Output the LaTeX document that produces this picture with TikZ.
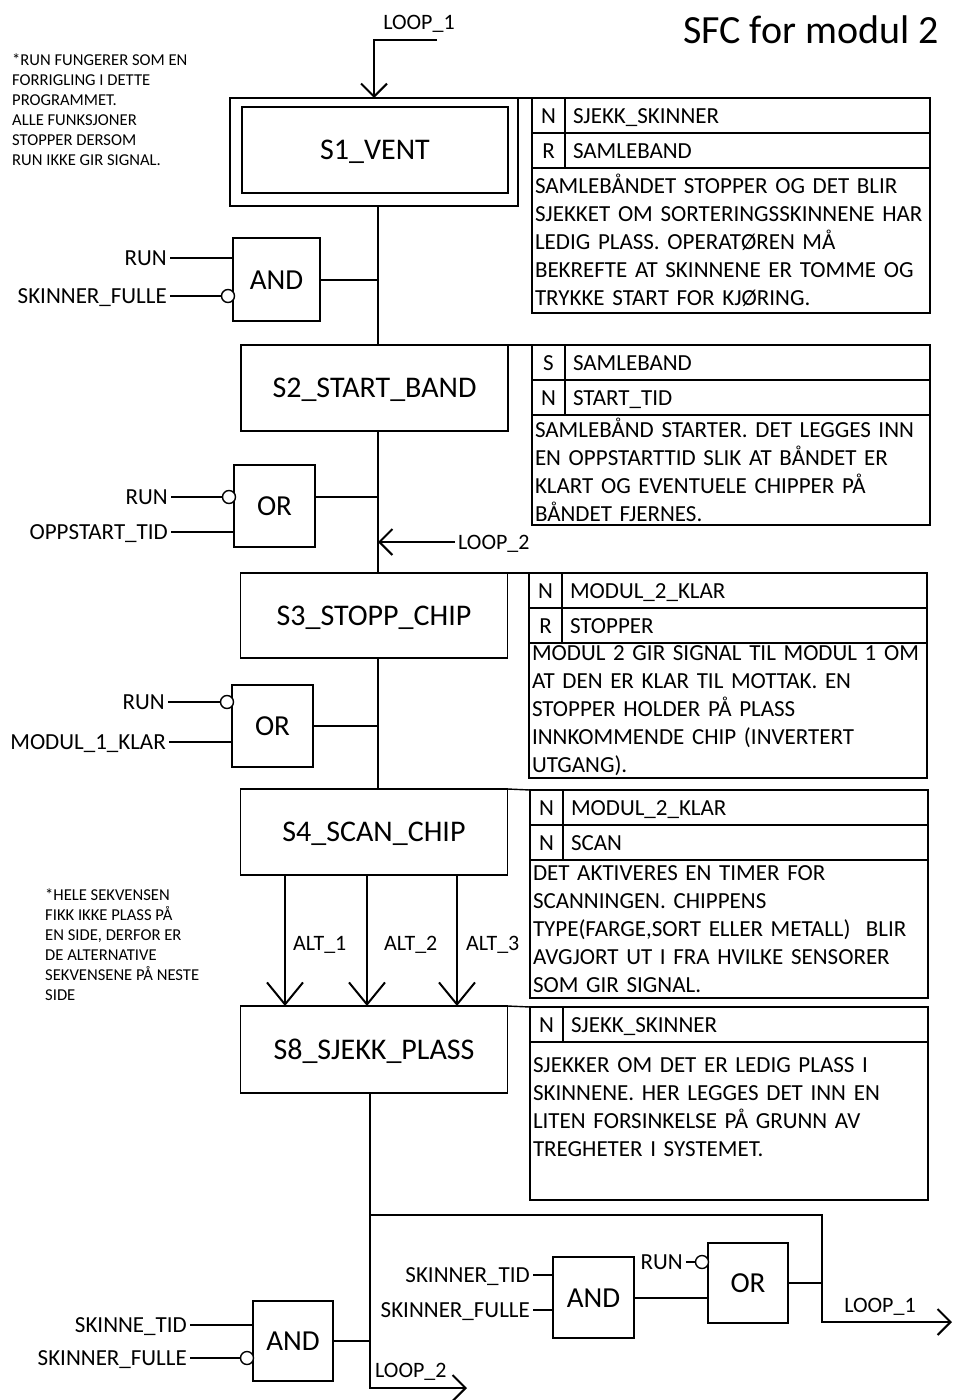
\documentclass[tikz,border=0pt]{standalone}
\usepackage{fontspec}
\setmainfont{Carlito}
\usetikzlibrary{positioning,arrows.meta}
\tikzset{
  stepBox/.style={draw, line width=1.4pt, outer sep=0pt, inner sep=0pt,
                  minimum width=267pt, minimum height=86pt,
                  font=\fontsize{30}{35}\selectfont, text height=19pt, text depth=0pt},
  gateBox/.style={draw, line width=1.4pt, outer sep=0pt, inner sep=0pt,
                  minimum width=81pt, minimum height=82pt,
                  font=\fontsize{29}{34}\selectfont, text height=19pt, text depth=0pt},
  qualCell/.style={draw, line width=1.4pt, outer sep=0pt, inner sep=0pt, anchor=north west,
                   minimum width=33pt, minimum height=35pt,
                   font=\fontsize{23}{28}\selectfont, text height=15pt, text depth=0pt},
  actCell/.style={draw, line width=1.4pt, outer sep=0pt, inner xsep=8pt, inner ysep=0pt,
                  anchor=north west, text width=349pt, align=left, minimum height=35pt,
                  font=\fontsize{23}{28}\selectfont, text height=15pt, text depth=0pt},
  descBox/.style={draw, line width=1.4pt, outer sep=0pt, inner xsep=3pt, inner ysep=2pt,
                  anchor=north west, text width=392pt, align=left,
                  font=\fontsize{23}{28}\selectfont},
  sigTxt/.style={inner sep=3pt, font=\fontsize{22}{26}\selectfont,
                 text height=14pt, text depth=0pt},
  sigLbl/.style={sigTxt, anchor=east, font=\fontsize{23}{27}\selectfont},
  negIn/.style={circle, draw, line width=1.4pt, fill=white, inner sep=0pt, minimum size=13pt},
  noteTxt/.style={anchor=north west, inner sep=0pt, align=left,
                  font=\fontsize{16.6}{20}\selectfont},
  wire/.style={line width=2pt},
  boxLine/.style={line width=1.4pt},
  sfcArrow/.style={wire, -{Straight Barb[length=13pt, width=26pt]}},
  altArrow/.style={wire, -{Straight Barb[length=22pt, width=36pt]}},
}

\begin{document}
\begin{tikzpicture}[x=1pt, y=-1pt]
\useasboundingbox (0,0) rectangle (954,1400);

% ========== TITLE AND NOTES ==========
\node[font=\fontsize{40}{48}\selectfont, anchor=base] (title) at (811,43) {SFC for modul 2};

\node[noteTxt] (note1) at (12,54)
  {*RUN FUNGERER SOM EN\\
   FORRIGLING I DETTE\\
   PROGRAMMET.\\
   ALLE FUNKSJONER\\
   STOPPER DERSOM\\
   RUN IKKE GIR SIGNAL.};

\node[noteTxt] (note2) at (45,889)
  {*HELE SEKVENSEN\\
   FIKK IKKE PLASS PÅ\\
   EN SIDE, DERFOR ER\\
   DE ALTERNATIVE\\
   SEKVENSENE PÅ NESTE\\
   SIDE};

% ========== STEPS ==========
\coordinate (spx) at (378,0);
\node[stepBox, minimum width=288pt, minimum height=108pt] (s1) at (374,152) {};
\node[stepBox, minimum width=266pt] (s1in) at (375,150) {S1\_VENT};
\node[stepBox] (s2) at (374.5,388) {S2\_START\_BAND};
\node[stepBox, minimum height=85pt] (s3) at (374,615.5) {S3\_STOPP\_CHIP};
\node[stepBox] (s4) at (374,832) {S4\_SCAN\_CHIP};
\node[stepBox, minimum height=87pt] (s8) at (374,1049.5) {S8\_SJEKK\_PLASS};

% entry from LOOP_1
\node[sigTxt, anchor=base] (l1in) at (419,29) {LOOP\_1};
\coordinate (l1top) at (437,40);
\draw[sfcArrow] (l1top) -| (s1.north);

% main line
\draw[wire] (s1.south -| spx) -- (s2.north -| spx);
\draw[wire] (s2.south -| spx) -- (s3.north -| spx);
\draw[wire] (s3.south -| spx) -- (s4.north -| spx);

% entry from LOOP_2
\node[sigTxt, anchor=west] (l2in) at (455,542) {LOOP\_2};
\draw[sfcArrow] (l2in.west) -- (l2in.west -| spx);

% ========== TRANSITIONS ==========
% S1 -> S2
\node[gateBox, minimum width=87pt, minimum height=83pt] (g1) at (276.5,279.5) {AND};
\node[sigLbl] (g1a) at (170,258) {RUN};
\node[sigLbl] (g1b) at (170,296) {SKINNER\_FULLE};
\node[negIn] (g1n) at (228,296) {};
\draw[wire] (g1a.east) -- (g1a.east -| g1.west);
\draw[wire] (g1b.east) -- (g1n.west);
\draw[wire] (g1.east) -- (g1.east -| spx);

% S2 -> S3
\node[gateBox] (g2) at (274.5,506) {OR};
\node[sigLbl] (g2a) at (171,497) {RUN};
\node[sigLbl] (g2b) at (171,532) {OPPSTART\_TID};
\node[negIn] (g2n) at (229,497) {};
\draw[wire] (g2a.east) -- (g2n.west);
\draw[wire] (g2b.east) -- (g2b.east -| g2.west);
\draw[wire] (g2.east |- g2a) -- (spx |- g2a);

% S3 -> S4
\node[gateBox] (g3) at (272.5,726) {OR};
\node[sigLbl] (g3a) at (168,702) {RUN};
\node[sigLbl] (g3b) at (169,742) {MODUL\_1\_KLAR};
\node[negIn] (g3n) at (227,702) {};
\draw[wire] (g3a.east) -- (g3n.west);
\draw[wire] (g3b.east) -- (g3b.east -| g3.west);
\draw[wire] (g3.east) -- (g3.east -| spx);

% S4 -> S8, three alternatives
\foreach \x/\n/\dx in {285/1/5, 367/2/14, 457/3/6} {
  \coordinate (alt\n) at (\x,0);
  \draw[altArrow] (s4.south -| alt\n) -- (s8.north -| alt\n);
  \node[sigTxt, anchor=west] (altlbl\n) at (\x+\dx,943) {ALT\_\n};
}

% S8 -> LOOP_1 / LOOP_2
\coordinate (spx2) at (370,0);
\coordinate (j1) at (370,1215);
\coordinate (k2) at (822,1322);
\coordinate (loop1out) at (952,1322);
\coordinate (loop2out) at (467,1388);
\draw[sfcArrow] (s8.south -| spx2) |- (loop2out);
\draw[sfcArrow] (j1) -| (k2) -- (loop1out);
\node[sigTxt, anchor=west] (l2out) at (372,1370) {LOOP\_2};
\node[sigTxt] (l1out) at (880,1305) {LOOP\_1};

\node[gateBox, minimum width=80pt, minimum height=80pt] (g4) at (293,1341) {AND};
\node[sigLbl] (g4a) at (190,1325) {SKINNE\_TID};
\node[sigLbl] (g4b) at (190,1358) {SKINNER\_FULLE};
\node[negIn] (g4n) at (247,1358) {};
\draw[wire] (g4a.east) -- (g4a.east -| g4.west);
\draw[wire] (g4b.east) -- (g4n.west);
\draw[wire] (g4.east) -- (g4.east -| spx2);

\node[gateBox, minimum width=81pt, minimum height=81pt] (g5) at (593.5,1297.5) {AND};
\node[sigLbl] (g5a) at (533,1275) {SKINNER\_TID};
\node[sigLbl] (g5b) at (533,1310) {SKINNER\_FULLE};
\draw[wire] (g5a.east) -- (g5a.east -| g5.west);
\draw[wire] (g5b.east) -- (g5b.east -| g5.west);

\node[gateBox, minimum width=80pt, minimum height=80pt] (g6) at (748,1283) {OR};
\node[sigLbl] (g6a) at (686,1262) {RUN};
\node[negIn] (g6n) at (702,1262) {};
\draw[wire] (g6a.east) -- (g6n.west);
\draw[wire] (g5.east) -- (g5.east -| g6.west);
\draw[wire] (g6.east) -- (g6.east -| k2);

% ========== ACTIONS ==========
% S1
\node[qualCell] (q1a) at (532,98) {N};
\node[actCell] (a1a) at (q1a.north east) {SJEKK\_SKINNER};
\node[qualCell] (q1b) at (q1a.south west) {R};
\node[actCell] (a1b) at (q1b.north east) {SAMLEBAND};
\node[descBox, minimum height=145pt] (d1) at (q1b.south west)
  {SAMLEBÅNDET STOPPER OG DET BLIR\\
   SJEKKET OM SORTERINGSSKINNENE HAR\\
   LEDIG PLASS. OPERATØREN MÅ\\
   BEKREFTE AT SKINNENE ER TOMME OG\\
   TRYKKE START FOR KJØRING.};
\draw[boxLine] (s1.north east) -- (q1a.north west);

% S2
\node[qualCell] (q2a) at (532,345) {S};
\node[actCell] (a2a) at (q2a.north east) {SAMLEBAND};
\node[qualCell] (q2b) at (q2a.south west) {N};
\node[actCell] (a2b) at (q2b.north east) {START\_TID};
\node[descBox, minimum height=110pt] (d2) at (q2b.south west)
  {SAMLEBÅND STARTER. DET LEGGES INN\\
   EN OPPSTARTTID SLIK AT BÅNDET ER\\
   KLART OG EVENTUELE CHIPPER PÅ\\
   BÅNDET FJERNES.};
\draw[boxLine] (s2.north east) -- (q2a.north west);

% S3
\node[qualCell] (q3a) at (529,573) {N};
\node[actCell] (a3a) at (q3a.north east) {MODUL\_2\_KLAR};
\node[qualCell] (q3b) at (q3a.south west) {R};
\node[actCell] (a3b) at (q3b.north east) {STOPPER};
\node[descBox, minimum height=135pt] (d3) at (q3b.south west)
  {MODUL 2 GIR SIGNAL TIL MODUL 1 OM\\
   AT DEN ER KLAR TIL MOTTAK. EN\\
   STOPPER HOLDER PÅ PLASS\\
   INNKOMMENDE CHIP (INVERTERT\\
   UTGANG).};
\draw[boxLine] (s3.north east) -- (q3a.north west);

% S4
\node[qualCell] (q4a) at (530,790) {N};
\node[actCell] (a4a) at (q4a.north east) {MODUL\_2\_KLAR};
\node[qualCell] (q4b) at (q4a.south west) {N};
\node[actCell] (a4b) at (q4b.north east) {SCAN};
\node[descBox, minimum height=138pt] (d4) at (q4b.south west)
  {DET AKTIVERES EN TIMER FOR\\
   SCANNINGEN. CHIPPENS\\
   TYPE(FARGE,SORT ELLER METALL)~~BLIR\\
   AVGJORT UT I FRA HVILKE SENSORER\\
   SOM GIR SIGNAL.};
\draw[boxLine] (s4.north east) -- (q4a.north west);

% S8
\node[qualCell] (q8a) at (530,1007) {N};
\node[actCell] (a8a) at (q8a.north east) {SJEKK\_SKINNER};
\node[descBox, minimum height=158pt] (d8) at (q8a.south west)
  {SJEKKER OM DET ER LEDIG PLASS I\\
   SKINNENE. HER LEGGES DET INN EN\\
   LITEN FORSINKELSE PÅ GRUNN AV\\
   TREGHETER I SYSTEMET.\\
   \mbox{}};
\draw[boxLine] (s8.north east) -- (q8a.north west);

\end{tikzpicture}
\end{document}
